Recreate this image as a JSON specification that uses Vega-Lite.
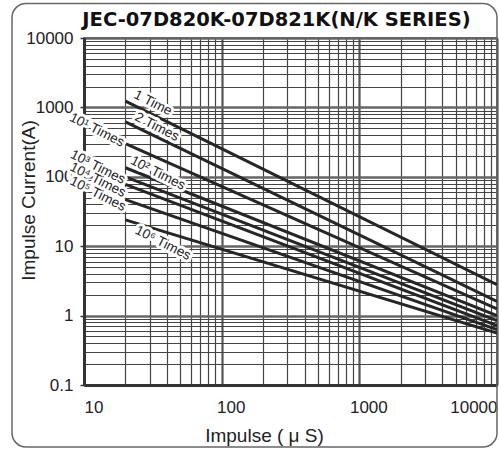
{
  "$schema": "https://vega.github.io/schema/vega-lite/v6.json",
  "width": 413,
  "height": 347,
  "autosize": {"type": "none"},
  "padding": {"left": 84, "top": 38, "right": 2, "bottom": 65},
  "background": "white",
  "title": {
    "text": "JEC-07D820K-07D821K(N/K SERIES)",
    "font": "DejaVu Sans",
    "fontWeight": "bold",
    "fontSize": 19.5,
    "color": "#111111",
    "anchor": "middle",
    "dx": -14,
    "offset": -28
  },
  "config": {
    "view": {"stroke": "#333333", "strokeWidth": 1.5}
  },
  "datasets": {
    "curves": [
      {"series": "1", "t": 20, "i": 1230}, {"series": "1", "t": 10000, "i": 2.8},
      {"series": "2", "t": 20, "i": 620}, {"series": "2", "t": 10000, "i": 1.6},
      {"series": "10", "t": 20, "i": 300}, {"series": "10", "t": 10000, "i": 1.25},
      {"series": "1e2", "t": 20, "i": 135}, {"series": "1e2", "t": 10000, "i": 1.0},
      {"series": "1e3", "t": 20, "i": 100}, {"series": "1e3", "t": 10000, "i": 0.85},
      {"series": "1e4", "t": 20, "i": 78}, {"series": "1e4", "t": 10000, "i": 0.72},
      {"series": "1e5", "t": 20, "i": 47}, {"series": "1e5", "t": 10000, "i": 0.63},
      {"series": "1e6", "t": 20, "i": 24}, {"series": "1e6", "t": 10000, "i": 0.56}
    ],
    "labels": [
      {"label": "1 Time", "t": 31.7, "i": 1157},
      {"label": "2 Times", "t": 33.9, "i": 523},
      {"label": "10¹ Times", "t": 12.4, "i": 472},
      {"label": "10² Times", "t": 34.4, "i": 113},
      {"label": "10³ Times", "t": 12.6, "i": 138},
      {"label": "10⁴ Times", "t": 12.6, "i": 90},
      {"label": "10⁵ Times", "t": 12.6, "i": 56.5},
      {"label": "10⁶ Times", "t": 37.5, "i": 11.1}
    ],
    "frame": [{"t0": 3.0, "t1": 10000, "i0": 31400, "i1": 0.0128}]
  },
  "layer": [
    {
      "data": {"name": "frame"},
      "mark": {"type": "rect", "fill": "transparent", "stroke": "#666666", "strokeWidth": 1.5, "cornerRadius": 14, "clip": false},
      "encoding": {
        "x": {"field": "t0", "type": "quantitative"},
        "x2": {"field": "t1"},
        "y": {"field": "i0", "type": "quantitative"},
        "y2": {"field": "i1"}
      }
    },
    {
      "data": {"name": "curves"},
      "mark": {"type": "line", "strokeWidth": 3, "color": "#262626", "clip": true},
      "encoding": {
        "x": {
          "field": "t", "type": "quantitative",
          "scale": {"type": "log", "domain": [10, 10000], "nice": false},
          "axis": {
            "title": "Impulse ( μ S)",
            "values": [10,20,30,40,50,60,70,80,90,100,200,300,400,500,600,700,800,900,1000,2000,3000,4000,5000,6000,7000,8000,9000,10000],
            "grid": true,
            "gridColor": {"condition": {"test": "indexof([10,100,1000,10000], datum.value) >= 0", "value": "#555555"}, "value": "#444444"},
            "gridWidth": {"condition": {"test": "indexof([10,100,1000,10000], datum.value) >= 0", "value": 2.2}, "value": 1.2},
            "gridOpacity": 1,
            "ticks": false,
            "labelExpr": "indexof([10,100,1000,10000], datum.value) >= 0 ? format(datum.value, 'd') : ''",
            "labelFont": "Liberation Sans",
            "labelFontSize": 17,
            "labelColor": "#222222",
            "labelPadding": 14,
            "labelFlush": true,
            "labelOverlap": false,
            "labelOffset": {"condition": {"test": "datum.value == 100 || datum.value == 1000", "value": 9}, "value": 0},
            "domainColor": "#333333",
            "domainWidth": 3,
            "titleFont": "Liberation Sans",
            "titleFontSize": 19,
            "titleFontWeight": "normal",
            "titleColor": "#222222",
            "titleX": 180,
            "titleY": 50,
            "titleBaseline": "middle"
          }
        },
        "y": {
          "field": "i", "type": "quantitative",
          "scale": {"type": "log", "domain": [0.1, 10000], "nice": false},
          "axis": {
            "title": "Impulse Current(A)",
            "values": [0.1,0.2,0.3,0.4,0.5,0.6,0.7,0.8,0.9,1,2,3,4,5,6,7,8,9,10,20,30,40,50,60,70,80,90,100,200,300,400,500,600,700,800,900,1000,2000,3000,4000,5000,6000,7000,8000,9000,10000],
            "grid": true,
            "gridColor": {"condition": {"test": "indexof([0.1,1,10,100,1000,10000], datum.value) >= 0", "value": "#666666"}, "value": "#444444"},
            "gridWidth": {"condition": {"test": "indexof([0.1,1,10,100,1000,10000], datum.value) >= 0", "value": 2.5}, "value": 1.2},
            "gridOpacity": 1,
            "tickSize": 4,
            "tickWidth": 1.5,
            "tickColor": "#333333",
            "tickOpacity": {"condition": {"test": "indexof([0.1,1,10,100,1000,10000], datum.value) >= 0", "value": 1}, "value": 0},
            "labelExpr": "indexof([0.1,1,10,100,1000,10000], datum.value) >= 0 ? (datum.value < 1 ? '0.1' : format(datum.value, 'd')) : ''",
            "labelFont": "Liberation Sans",
            "labelFontSize": 17,
            "labelColor": "#222222",
            "labelPadding": 7,
            "labelOverlap": false,
            "domainColor": "#333333",
            "domainWidth": 3,
            "titleFont": "Liberation Sans",
            "titleFontSize": 19,
            "titleFontWeight": "normal",
            "titleColor": "#222222",
            "titleX": -56,
            "titleY": 162,
            "titleBaseline": "middle"
          }
        },
        "detail": {"field": "series", "type": "nominal"}
      }
    },
    {
      "data": {"name": "labels"},
      "mark": {"type": "text", "font": "Liberation Sans", "fontSize": 13.5, "stroke": "white", "strokeWidth": 6, "strokeJoin": "round", "fill": "white", "align": "center", "baseline": "middle", "clip": false},
      "encoding": {
        "x": {"field": "t", "type": "quantitative"},
        "y": {"field": "i", "type": "quantitative"},
        "text": {"field": "label", "type": "nominal"},
        "angle": {"field": "label", "type": "nominal", "legend": null,
          "scale": {"domain": ["1 Time", "2 Times", "10¹ Times", "10² Times", "10³ Times", "10⁴ Times", "10⁵ Times", "10⁶ Times"], "range": [27, 27, 25, 22, 22, 22, 20, 18]}}
      }
    },
    {
      "data": {"name": "labels"},
      "mark": {"type": "text", "font": "Liberation Sans", "fontSize": 13.5, "color": "#222222", "align": "center", "baseline": "middle", "clip": false},
      "encoding": {
        "x": {"field": "t", "type": "quantitative"},
        "y": {"field": "i", "type": "quantitative"},
        "text": {"field": "label", "type": "nominal"},
        "angle": {"field": "label", "type": "nominal", "legend": null,
          "scale": {"domain": ["1 Time", "2 Times", "10¹ Times", "10² Times", "10³ Times", "10⁴ Times", "10⁵ Times", "10⁶ Times"], "range": [27, 27, 25, 22, 22, 22, 20, 18]}}
      }
    }
  ]
}
